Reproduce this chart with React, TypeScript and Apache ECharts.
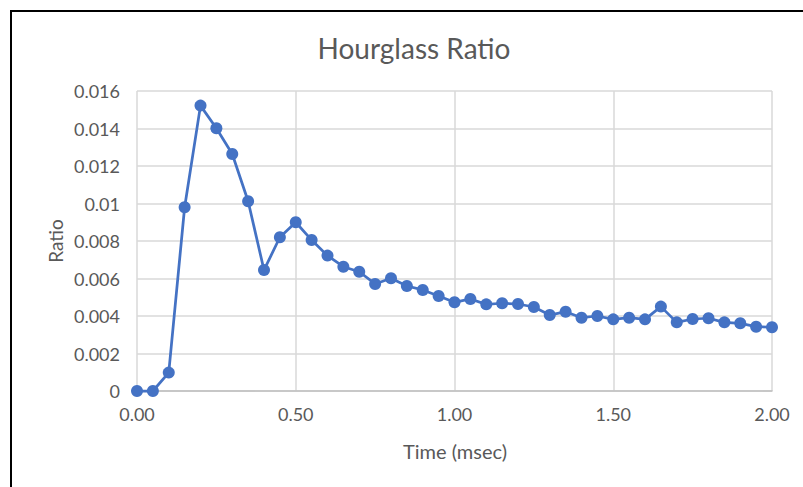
import React, { useEffect, useRef } from "react";
import * as echarts from "echarts";

const times: number[] = [
  0.0, 0.05, 0.1, 0.15, 0.2, 0.25, 0.3, 0.35, 0.4, 0.45, 0.5, 0.55, 0.6, 0.65, 0.7, 0.75, 0.8, 0.85, 0.9, 0.95,
  1.0, 1.05, 1.1, 1.15, 1.2, 1.25, 1.3, 1.35, 1.4, 1.45, 1.5, 1.55, 1.6, 1.65, 1.7, 1.75, 1.8, 1.85, 1.9, 1.95, 2.0,
];
const ratios: number[] = [
  0, 0, 0.00098, 0.0098, 0.01522, 0.01401, 0.01264, 0.01012, 0.00645, 0.0082, 0.009, 0.00805, 0.00722, 0.00663,
  0.00636, 0.00571, 0.00601, 0.0056, 0.00539, 0.00507, 0.00473, 0.00491, 0.00462, 0.00468, 0.00464, 0.00448,
  0.00405, 0.00423, 0.00391, 0.004, 0.00382, 0.00391, 0.00382, 0.0045, 0.00366, 0.00384, 0.00388, 0.00366,
  0.00361, 0.00343, 0.0034,
];
const titleText = "Hourglass Ratio";
const xAxisName = "Time (msec)";
const yAxisName = "Ratio";

const FONT = "Lato, 'Noto Sans', sans-serif";
const TEXT_COLOR = "#595959";

export default function App() {
  const ref = useRef<HTMLDivElement>(null);
  useEffect(() => {
    if (!ref.current) return;
    const chart = echarts.init(ref.current, null, { renderer: "svg" });
    chart.setOption({
      animation: false,
      backgroundColor: "#ffffff",
      textStyle: { fontFamily: FONT },
      graphic: [
        {
          type: "rect",
          shape: { x: 11, y: 11, width: 800, height: 490 },
          style: { fill: "none", stroke: "#000000", lineWidth: 2 },
          silent: true,
          z: 100,
        },
        {
          type: "text",
          x: 414,
          y: 48,
          style: {
            text: titleText,
            fontFamily: FONT,
            fontSize: 28,
            fill: TEXT_COLOR,
            align: "center",
            verticalAlign: "middle",
          },
        },
        {
          type: "text",
          x: 455,
          y: 451,
          style: {
            text: xAxisName,
            fontFamily: FONT,
            fontSize: 20,
            fill: TEXT_COLOR,
            align: "center",
            verticalAlign: "middle",
          },
        },
        {
          type: "text",
          x: 55,
          y: 241,
          rotation: Math.PI / 2,
          style: {
            text: yAxisName,
            fontFamily: FONT,
            fontSize: 19,
            fill: TEXT_COLOR,
            align: "center",
            verticalAlign: "middle",
          },
        },
      ],
      grid: { left: 137, top: 91, right: 31, bottom: 96, containLabel: false },
      xAxis: {
        type: "value",
        min: 0,
        max: 2,
        interval: 0.5,
        axisLine: { show: true, lineStyle: { color: "#bfbfbf", width: 1.5 } },
        axisTick: { show: false },
        splitLine: { show: true, lineStyle: { color: "#d9d9d9", width: 1.5 } },
        axisLabel: {
          color: TEXT_COLOR,
          fontSize: 18,
          fontFamily: FONT,
          margin: 14,
          formatter: (v: number) => v.toFixed(2),
        },
      },
      yAxis: {
        type: "value",
        min: 0,
        max: 0.016,
        interval: 0.002,
        axisLine: { show: false },
        axisTick: { show: false },
        splitLine: { show: true, lineStyle: { color: "#d9d9d9", width: 1.5 } },
        axisLabel: {
          color: TEXT_COLOR,
          fontSize: 18,
          fontFamily: FONT,
          margin: 17,
          formatter: (v: number) => String(+v.toFixed(3)),
        },
      },
      series: [
        {
          type: "line",
          data: times.map((t, i) => [t, ratios[i]]),
          symbol: "circle",
          symbolSize: 12,
          showSymbol: true,
          clip: false,
          itemStyle: { color: "#4472C4" },
          lineStyle: { color: "#4472C4", width: 2.75 },
        },
      ],
    });
    return () => chart.dispose();
  }, []);
  return (
    <div
      ref={ref}
      style={{ position: "fixed", left: 0, top: 0, width: 803, height: 487 }}
    />
  );
}
